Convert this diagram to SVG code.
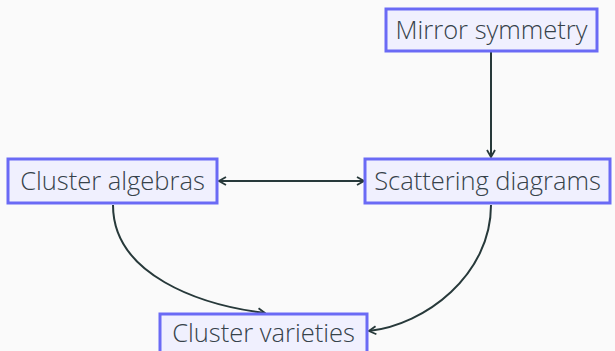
<svg xmlns="http://www.w3.org/2000/svg" width="615" height="351" viewBox="0 0 615 351">
  <style>
    .box { fill: #f0f0fe; stroke: #6a6af5; stroke-width: 3; }
    .label { font-family: "Open Sans", "Noto Sans", sans-serif; font-weight: 300; font-size: 25.5px; fill: #36424a; text-anchor: middle; dominant-baseline: central; }
    .edge { fill: none; stroke: #27393a; stroke-width: 2; }
  </style>
  <defs>
    <marker id="head" viewBox="0 0 10 10" refX="9" refY="5" markerWidth="10" markerHeight="10" markerUnits="userSpaceOnUse" orient="auto-start-reverse">
      <path d="M2,1 L9,5 L2,9" fill="none" stroke="#27393a" stroke-width="1.8"/>
    </marker>
  </defs>
  <rect width="615" height="351" fill="#fafafa"/>

  <g id="edges">
    <path class="edge" d="M491,52 L491,157" marker-end="url(#head)"/>
    <path class="edge" d="M219,181 L364,181" marker-start="url(#head)" marker-end="url(#head)"/>
    <path class="edge" d="M113,205 C113,275 200,305 265,313" marker-end="url(#head)"/>
    <path class="edge" d="M491,205 C491,275 425,325 369,331" marker-end="url(#head)"/>
  </g>

  <g id="mirror-symmetry">
    <rect class="box" x="386" y="9" width="211" height="42"/>
    <text class="label" x="491.5" y="29">Mirror symmetry</text>
  </g>
  <g id="cluster-algebras">
    <rect class="box" x="8" y="159" width="209" height="44"/>
    <text class="label" x="112.5" y="180">Cluster algebras</text>
  </g>
  <g id="scattering-diagrams">
    <rect class="box" x="365" y="159" width="245" height="44"/>
    <text class="label" x="487.5" y="180">Scattering diagrams</text>
  </g>
  <g id="cluster-varieties">
    <rect class="box" x="160" y="314" width="207" height="42"/>
    <text class="label" x="263.5" y="332">Cluster varieties</text>
  </g>
</svg>
